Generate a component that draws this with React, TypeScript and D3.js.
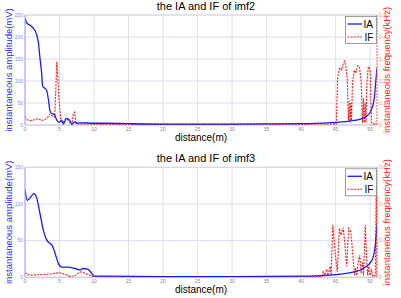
import React from "react";
import * as d3 from "d3";

const W = 401;
const H = 298;

const distanceTicks = [0, 5, 10, 15, 20, 25, 30, 35, 40, 45, 50];

const imf2Title = "the IA and IF of imf2";
const imf3Title = "the IA and IF of imf3";

const imf2AmpTicks = [0, 50, 100, 150, 200, 250];
const imf2FreqTicks = [0, 0.1, 0.2, 0.3, 0.4, 0.5];
const imf3AmpTicks = [0, 50, 100, 150];
const imf3FreqTicks = [0, 0.2, 0.4, 0.6];

const imf2IA: [number, number][] = [
  [0, 242], [0.25, 232], [0.7, 227], [1.2, 220], [1.7, 205], [1.95, 186], [2.15, 155], [2.4, 120],
  [2.56, 88], [2.9, 83], [3.1, 80], [3.4, 57], [3.6, 34], [3.8, 27], [4.3, 23], [4.6, 11], [5.0, 6],
  [5.3, 11], [5.55, 2], [6.0, 15], [6.5, 10], [6.8, 2], [7.2, 7], [7.5, 4], [8, 5], [10, 4], [12, 4],
  [15, 3], [20, 2], [25, 2], [30, 2], [35, 2.5], [40, 3], [44, 5], [47, 9], [48.5, 13], [49.5, 20],
  [50.2, 35], [50.6, 60], [50.8, 95], [51, 130],
];

const imf2IF: [number, number][] = [
  [0, 0.038], [0.3, 0.024], [0.7, 0.02], [1.2, 0.022], [1.6, 0.027], [2.0, 0.028], [2.4, 0.02],
  [2.8, 0.024], [3.2, 0.03], [3.6, 0.05], [4.0, 0.04], [4.3, 0.035], [4.45, 0.15], [4.6, 0.287],
  [4.75, 0.22], [4.9, 0.13], [5.05, 0.068], [5.2, 0.022], [5.5, 0.01], [5.8, 0.025], [6.0, 0.03],
  [6.3, 0.02], [6.6, 0.005], [6.8, 0.003], [7.0, 0.05], [7.2, 0.058], [7.4, 0.01], [7.7, 0.005],
  [10, 0.004], [20, 0.003], [30, 0.003], [40, 0.004], [45.1, 0.005], [45.3, 0.22], [45.6, 0.26],
  [45.9, 0.25], [46.1, 0.28], [46.3, 0.29], [46.5, 0.265], [46.7, 0.2], [46.85, 0.02], [47.0, 0.11],
  [47.1, 0.01], [47.2, 0.1], [47.3, 0.02], [47.45, 0.19], [47.7, 0.25], [47.9, 0.235], [48.2, 0.27],
  [48.45, 0.265], [48.7, 0.2], [48.9, 0.01], [49.05, 0.12], [49.15, 0.01], [49.3, 0.1], [49.4, 0.01],
  [49.55, 0.2], [49.75, 0.265], [50.0, 0.25], [50.2, 0.01], [50.5, 0.005], [51, 0.005],
];

const imf3IA: [number, number][] = [
  [0, 120], [0.33, 105], [0.7, 108], [1.3, 114], [1.7, 108], [2.17, 87], [2.66, 64], [3.14, 51],
  [3.6, 46], [3.9, 44], [4.35, 33], [4.83, 19], [5.3, 14], [6.3, 14], [7.25, 12], [7.97, 10],
  [8.4, 12], [9.1, 11], [9.66, 5.5], [10, 1.5], [12, 1.5], [20, 1], [30, 1], [40, 1.5], [44, 3],
  [47, 6], [49, 12], [50.2, 22], [50.7, 40], [51, 72],
];

const imf3IF: [number, number][] = [
  [0, 0.025], [0.3, 0.015], [1, 0.012], [2, 0.014], [3, 0.016], [4, 0.02], [5, 0.025], [5.5, 0.02],
  [6.5, 0.005], [7.2, 0.008], [7.8, 0.025], [8.2, 0.03], [8.8, 0.02], [9.5, 0.01], [10, 0.002],
  [20, 0.001], [30, 0.002], [40, 0.003], [43, 0.004], [43.2, 0.03], [43.4, 0.01], [43.7, 0.045],
  [43.9, 0.01], [44.2, 0.06], [44.35, 0.01], [44.6, 0.285], [44.9, 0.15], [45.25, 0.03],
  [45.55, 0.267], [45.8, 0.23], [46.1, 0.27], [46.3, 0.2], [46.6, 0.06], [46.9, 0.267], [47.2, 0.25],
  [47.5, 0.12], [47.75, 0.01], [47.9, 0.05], [48.05, 0.01], [48.3, 0.09], [48.5, 0.12], [48.7, 0.02],
  [48.9, 0.08], [49.05, 0.01], [49.3, 0.285], [49.5, 0.1], [49.65, 0.01], [49.8, 0.06],
  [49.95, 0.01], [50.2, 0.04], [50.4, 0.005], [50.75, 0.01], [50.9, 0.5], [51, 0.0],
];

const FONT = "'Liberation Sans', Arial, Helvetica, sans-serif";

type PanelProps = {
  top: number;
  bottom: number;
  title: string;
  ampMax: number;
  freqMax: number;
  ampTicks: number[];
  freqTicks: number[];
  ia: [number, number][];
  iff: [number, number][];
  id: string;
};

function Panel(p: PanelProps) {
  const left = 25;
  const right = 377;
  const x = d3.scaleLinear().domain([0, 51]).range([left, right]);
  const yA = d3.scaleLinear().domain([0, p.ampMax]).range([p.bottom, p.top]);
  const yF = d3.scaleLinear().domain([0, p.freqMax]).range([p.bottom, p.top]);
  const lineA = d3
    .line<[number, number]>()
    .x((d) => x(d[0]))
    .y((d) => yA(d[1]))
    .curve(d3.curveMonotoneX);
  const lineF = d3
    .line<[number, number]>()
    .x((d) => x(d[0]))
    .y((d) => yF(d[1]));
  const midY = (p.top + p.bottom) / 2;
  const legX = 345.5;
  const legY = p.top + 1.5;
  return (
    <g>
      <defs>
        <clipPath id={p.id}>
          <rect x={left} y={p.top} width={right - left} height={p.bottom - p.top} />
        </clipPath>
      </defs>
      <rect x={left} y={p.top} width={right - left} height={p.bottom - p.top} fill="#fff" />
      {distanceTicks.map((t) => (
        <line key={"gx" + t} x1={x(t)} x2={x(t)} y1={p.top} y2={p.bottom} stroke="#e2e2e2" strokeWidth={1} />
      ))}
      {p.ampTicks.map((t) => (
        <line key={"gy" + t} x1={left} x2={right} y1={yA(t)} y2={yA(t)} stroke="#dcdcf2" strokeWidth={1} />
      ))}
      <line x1={left} x2={right} y1={p.top} y2={p.top} stroke="#d8d8d8" />
      <line x1={left} x2={right} y1={p.bottom} y2={p.bottom} stroke="#c8c8d8" />
      <g clipPath={`url(#${p.id})`}>
        <path d={lineF(p.iff) || ""} fill="none" stroke="#ff1a1a" strokeWidth={1.1} strokeDasharray="2,1.2" />
        <path d={lineA(p.ia) || ""} fill="none" stroke="#1a1aff" strokeWidth={1.3} />
      </g>
      <line x1={left} x2={left} y1={p.top} y2={p.bottom} stroke="#a0a0ff" />
      <line x1={right} x2={right} y1={p.top} y2={p.bottom} stroke="#ff5050" strokeDasharray="2,1" />
      {distanceTicks.map((t) => (
        <text key={"tx" + t} x={x(t)} y={p.bottom + 5.5} fontSize={5} fill="#888" textAnchor="middle" fontFamily={FONT}>
          {t}
        </text>
      ))}
      {p.ampTicks.map((t) => (
        <text key={"ta" + t} x={left - 2} y={yA(t) + 1.8} fontSize={5} fill="#8a8aff" textAnchor="end" fontFamily={FONT}>
          {t}
        </text>
      ))}
      {p.freqTicks.map((t) => (
        <text key={"tf" + t} x={right + 2} y={yF(t) + 1.8} fontSize={5} fill="#ff8080" textAnchor="start" fontFamily={FONT}>
          {t}
        </text>
      ))}
      <text x={206} y={p.top - 5} fontSize={11} textAnchor="middle" fontFamily={FONT} fill="#000">
        {p.title}
      </text>
      <text x={201} y={p.bottom + 16} fontSize={10} textAnchor="middle" fontFamily={FONT} fill="#000">
        distance(m)
      </text>
      <text
        transform={`translate(11.8,${midY}) rotate(-90)`}
        fontSize={9.5}
        textAnchor="middle"
        fontFamily={FONT}
        fill="#2a2aff"
      >
        instantaneous amplitude(mV)
      </text>
      <text
        transform={`translate(389.8,${midY}) rotate(-90)`}
        fontSize={9.5}
        textAnchor="middle"
        fontFamily={FONT}
        fill="#ff2020"
      >
        instantaneous frequency(kHz)
      </text>
      <rect x={legX} y={legY} width={31} height={27} fill="#fff" stroke="#888" strokeWidth={0.8} />
      <line x1={legX + 2} x2={legX + 16.5} y1={legY + 7.5} y2={legY + 7.5} stroke="#1a1aff" strokeWidth={1.3} />
      <text x={legX + 18} y={legY + 11} fontSize={10} fontFamily={FONT} fill="#000">IA</text>
      <line x1={legX + 2} x2={legX + 16.5} y1={legY + 20.5} y2={legY + 20.5} stroke="#ff1a1a" strokeWidth={1.1} strokeDasharray="2,1.2" />
      <text x={legX + 19} y={legY + 24} fontSize={10} fontFamily={FONT} fill="#000">IF</text>
    </g>
  );
}

export default function App() {
  return (
    <svg width={W} height={H} style={{ display: "block", position: "absolute", left: 0, top: 0, background: "#fff" }}>
      <rect x={0} y={0} width={W} height={H} fill="#fff" />
      <Panel
        id="c1"
        top={15}
        bottom={125}
        title={imf2Title}
        ampMax={250}
        freqMax={0.5}
        ampTicks={imf2AmpTicks}
        freqTicks={imf2FreqTicks}
        ia={imf2IA}
        iff={imf2IF}
      />
      <Panel
        id="c2"
        top={167.3}
        bottom={277.3}
        title={imf3Title}
        ampMax={150}
        freqMax={0.6}
        ampTicks={imf3AmpTicks}
        freqTicks={imf3FreqTicks}
        ia={imf3IA}
        iff={imf3IF}
      />
    </svg>
  );
}
